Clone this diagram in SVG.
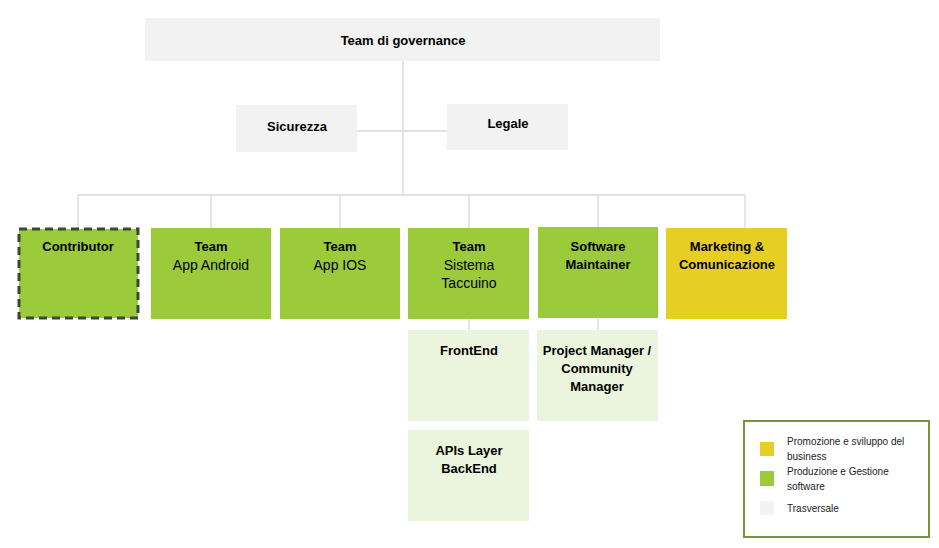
<svg xmlns="http://www.w3.org/2000/svg" width="939" height="548" viewBox="0 0 939 548">
<style>
.g{fill:#f2f2f2}
.pg{fill:#9bcb3a}
.y{fill:#e6cf22}
.lg{fill:#ebf4dc}
text{font-family:"Liberation Sans",Arial,sans-serif;fill:#000;text-anchor:middle}
.b{font-weight:bold;font-size:13px}
.r{font-size:14px}
.lt{font-size:10px;text-anchor:start;fill:#222}
.c line{stroke:#d9d9d9;stroke-width:1.3}
</style>
<rect width="939" height="548" fill="#fff"/>
<g class="c" id="connectors">
<line x1="403" y1="61" x2="403" y2="195"/>
<line x1="357" y1="131" x2="447" y2="131"/>
<line x1="78" y1="195" x2="745" y2="195"/>
<line x1="78" y1="195" x2="78" y2="228"/>
<line x1="211" y1="195" x2="211" y2="228"/>
<line x1="340" y1="195" x2="340" y2="228"/>
<line x1="469" y1="195" x2="469" y2="228"/>
<line x1="598" y1="195" x2="598" y2="227"/>
<line x1="745" y1="195" x2="745" y2="228"/>
<line x1="469" y1="319" x2="469" y2="330"/>
<line x1="598" y1="318" x2="598" y2="330"/>
</g>
<g id="governance"><rect class="g" x="145" y="18" width="515" height="43"/><text class="b" x="403" y="45">Team di governance</text></g>
<g id="sicurezza"><rect class="g" x="236" y="105" width="121" height="47"/><text class="b" x="297" y="131">Sicurezza</text></g>
<g id="legale"><rect class="g" x="447" y="104" width="121" height="46"/><text class="b" x="508" y="128">Legale</text></g>
<g id="contributor"><rect class="pg" x="19" y="229" width="119" height="89" stroke="#374a35" stroke-width="3" stroke-dasharray="8,5"/><text class="b" x="78" y="251">Contributor</text></g>
<g id="android"><rect class="pg" x="151" y="228" width="120" height="91"/><text class="b" x="211" y="251">Team</text><text class="r" x="211" y="270">App Android</text></g>
<g id="ios"><rect class="pg" x="280" y="228" width="120" height="91"/><text class="b" x="340" y="251">Team</text><text class="r" x="340" y="270">App IOS</text></g>
<g id="taccuino"><rect class="pg" x="408" y="228" width="121" height="91"/><text class="b" x="469" y="251">Team</text><text class="r" x="469" y="270">Sistema</text><text class="r" x="469" y="288">Taccuino</text></g>
<g id="maintainer"><rect class="pg" x="538" y="227" width="120" height="91"/><text class="b" x="598" y="251">Software</text><text class="b" x="598" y="269">Maintainer</text></g>
<g id="marketing"><rect class="y" x="666" y="228" width="121" height="91"/><text class="b" x="727" y="251">Marketing &amp;</text><text class="b" x="727" y="269">Comunicazione</text></g>
<g id="frontend"><rect class="lg" x="408" y="330" width="121" height="91"/><text class="b" x="469" y="355">FrontEnd</text></g>
<g id="pm"><rect class="lg" x="537" y="330" width="121" height="91"/><text class="b" x="597" y="355">Project Manager /</text><text class="b" x="597" y="373">Community</text><text class="b" x="597" y="391">Manager</text></g>
<g id="apis"><rect class="lg" x="408" y="430" width="121" height="91"/><text class="b" x="469" y="455">APIs Layer</text><text class="b" x="469" y="473">BackEnd</text></g>
<g id="legend">
<rect x="744" y="421" width="185" height="116" fill="#fff" stroke="#77933c" stroke-width="2"/>
<rect class="y" x="760" y="442" width="14" height="14"/>
<rect class="pg" x="760" y="471" width="14" height="15"/>
<rect class="g" x="760" y="501" width="14" height="14"/>
<text class="lt" x="787" y="445">Promozione e sviluppo del</text>
<text class="lt" x="787" y="460">business</text>
<text class="lt" x="787" y="475">Produzione e Gestione</text>
<text class="lt" x="787" y="490">software</text>
<text class="lt" x="787" y="512">Trasversale</text>
</g>
</svg>
